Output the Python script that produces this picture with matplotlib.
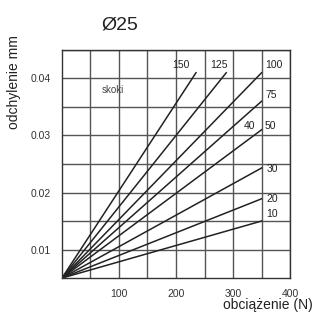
import matplotlib
matplotlib.use('Agg')
import matplotlib.pyplot as plt

plt.rcParams['font.family'] = ['Liberation Sans', 'DejaVu Sans']

# dane: koniec każdej linii (obciążenie N, odchylenie mm)
skoki = ['150', '125', '100', '75', '50', '30', '20', '10']
x_start = 0
y_start = 0.005
x_end = [235, 288, 350, 350, 350, 350, 350, 350]
y_end = [0.041, 0.041, 0.041, 0.036, 0.031, 0.0243, 0.0189, 0.015]

# etykiety przy liniach
lab_txt = ['150', '125', '100', '75', '40', '50', '30', '20', '10']
lab_x = [208, 275, 372, 366, 328, 365, 369, 369, 369]
lab_y = [0.0423, 0.0423, 0.0423, 0.0371, 0.0317, 0.0317, 0.0242, 0.0189, 0.0162]

x_ticks = [100, 200, 300, 400]
y_ticks = [0.01, 0.02, 0.03, 0.04]

fig = plt.figure(figsize=(3.16, 3.16), dpi=100)
ax = fig.add_axes([0.196, 0.12, 0.722, 0.722])

for i in range(len(skoki)):
    ax.plot([x_start, x_end[i]], [y_start, y_end[i]], color='#222222', lw=1.1)

for t, x, y in zip(lab_txt, lab_x, lab_y):
    ax.text(x, y, t, fontsize=7.5, ha='center', va='center', color='#222222')

ax.text(90, 0.038, 'skoki', fontsize=7, ha='center', va='center', color='#444444')

ax.set_xlim(0, 400)
ax.set_ylim(0.005, 0.045)
ax.set_xticks(x_ticks)
ax.set_yticks(y_ticks)
ax.set_xticklabels([str(v) for v in x_ticks])
ax.set_yticklabels(['%.2f' % v for v in y_ticks])
ax.set_xticks(range(50, 400, 50), minor=True)
ax.set_yticks([0.015, 0.025, 0.035, 0.045], minor=True)
ax.tick_params(which='both', length=0, labelsize=7.5, colors='#333333', pad=8)
ax.grid(True, which='both', color='#555555', lw=1)
ax.set_axisbelow(True)
for s in ax.spines.values():
    s.set_color('#333333')
    s.set_linewidth(1)

fig.text(0.38, 0.92, 'Ø25', fontsize=14, ha='center', va='center', color='#222222')
fig.text(0.045, 0.74, 'odchylenie mm', fontsize=10, rotation=90, ha='center', va='center', color='#222222')
fig.text(0.99, 0.035, 'obciążenie (N)', fontsize=10, ha='right', va='center', color='#222222')

fig.savefig('out.png', dpi=100)
